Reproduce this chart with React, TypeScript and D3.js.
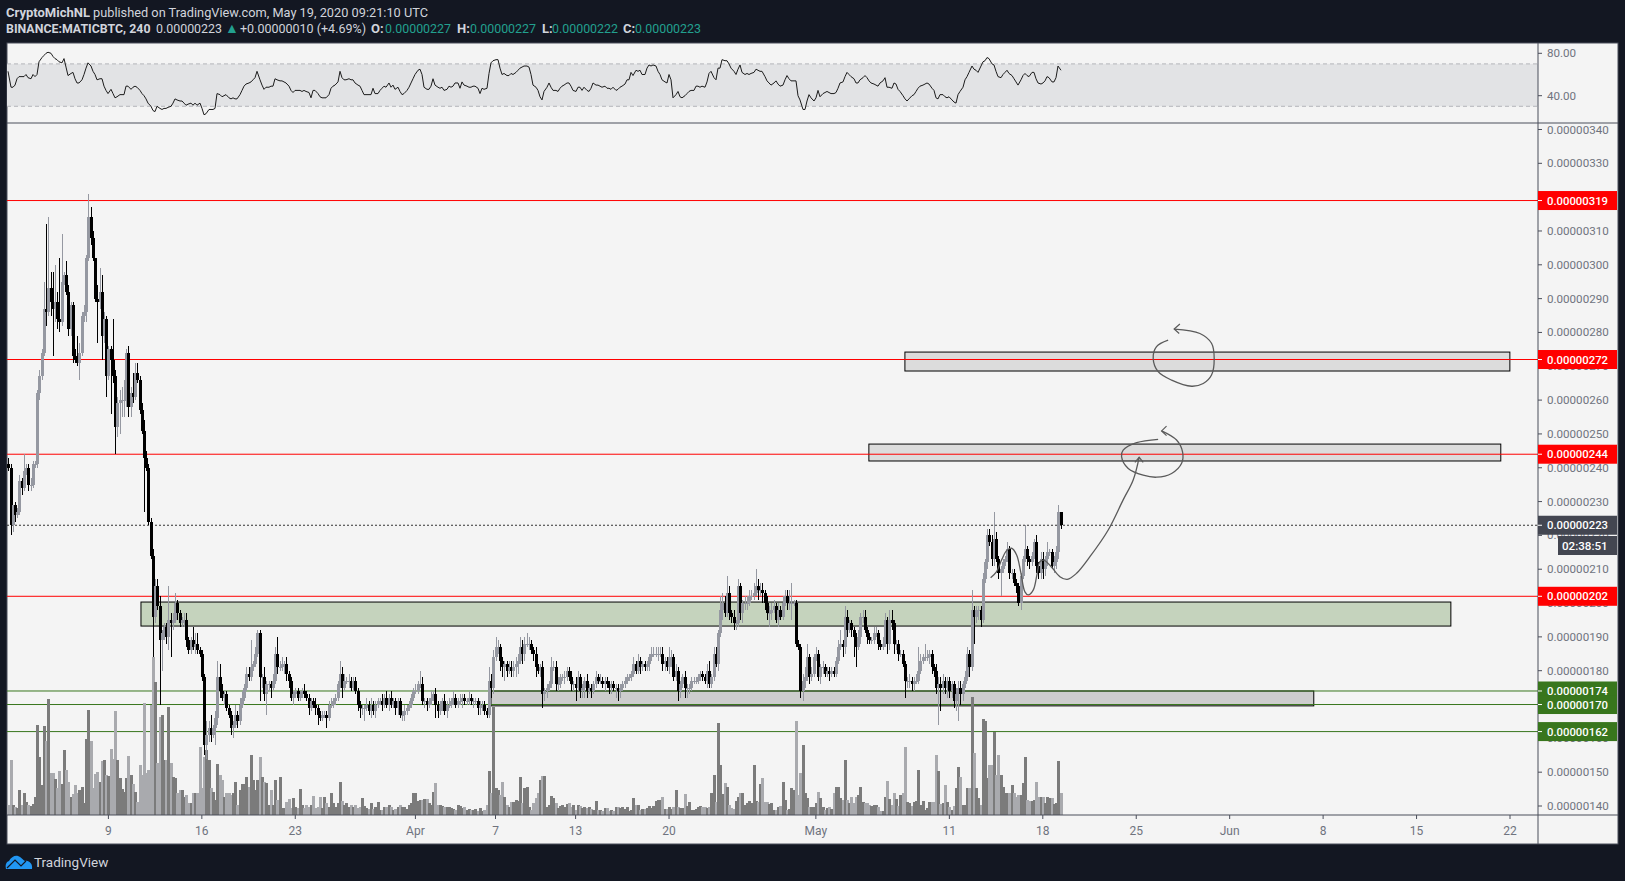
import React from "react";
import * as d3 from "d3";

// BINANCE:MATICBTC 4h candles, prices in satoshi (1e-8 BTC)
const firstOpen = 241;
const firstCandle = Date.UTC(2020, 2, 1, 12);
const candleMs = 4 * 3600 * 1000;

const closes = [
  240,223,229,226,227,236,234,239,240,235, 235,241,241,262,267,274,287,286,293,289,
  287,289,284,283,295,297,292,281,288,273, 272,271,274,285,286,302,314,308,302,290,
  289,292,279,284,267,275,272,267,252,259, 260,260,260,274,258,262,261,268,266,257,
  251,243,240,224,214,196,205,199,189,191, 193,190,195,194,195,200,197,194,195,195,
  189,186,189,187,188,186,185,178,158,161, 163,161,163,166,178,174,172,173,169,167,
  163,164,167,165,170,172,175,179,178,181, 182,185,191,178,178,173,176,176,175,177,
  185,181,181,182,182,179,177,172,173,174, 172,173,174,173,172,169,171,170,169,167,
  166,167,167,166,170,170,171,172,176,179, 175,177,177,177,175,177,174,170,169,169,
  169,170,168,170,168,170,171,171,170,172, 170,172,170,171,169,171,167,167,168,169,
  170,172,174,174,176,176,171,171,170,171, 172,173,170,168,170,171,168,170,170,171,
  172,170,171,171,172,171,171,172,171,171, 171,169,170,170,168,167,177,175,184,187,
  187,183,181,182,180,181,180,181,182,183, 187,185,188,188,188,186,185,181,180,181,
  173,174,175,176,181,181,176,176,178,178, 178,180,178,176,176,175,178,174,175,177,
  174,175,174,176,178,177,177,176,177,176, 175,176,175,175,174,175,176,177,178,178,
  179,182,180,183,181,182,181,182,184,185, 185,185,185,185,182,183,181,184,184,178,
  180,174,176,178,175,175,175,177,177,177, 178,179,178,177,180,176,178,185,182,191,
  198,200,197,203,197,196,194,194,205,197, 200,200,200,202,202,203,205,204,204,203,
  200,197,197,198,199,195,198,196,200,202, 200,200,200,200,188,187,174,177,178,184,
  178,179,184,185,178,181,181,179,180,179, 180,179,183,187,188,187,196,192,194,192,
  190,187,190,196,196,192,190,189,189,191, 191,188,187,188,195,188,195,194,188,188,
  185,185,182,177,177,177,176,177,177,180, 183,184,184,184,185,181,180,175,176,175,
  177,175,177,174,176,171,173,175,173,176, 178,185,181,198,196,198,198,195,207,212,
  220,218,213,219,213,209,210,212,213,216, 209,209,206,205,200,208,213,216,213,212,
  214,218,211,209,213,210,213,215,215,211, 212,215,227,223,
];

const upperWicks = [
  2,1,0,1,1,2,1,5,1,1, 2,1,1,1,2,1,8,25,21,5, 9,11,3,18,14,1,4,2,1,1, 2,7,3,1,2,1,7,3,2,0,
  4,7,5,2,1,1,1,12,2,2, 3,4,6,1,2,2,6,3,3,1, 2,3,2,1,1,2,2,2,3,1, 1,1,10,2,2,3,1,1,1,2,
  2,1,1,4,3,3,1,1,1,4, 2,4,1,2,5,4,2,1,1,1, 1,1,3,1,2,2,1,2,2,8, 1,2,1,1,1,3,1,1,1,2,
  2,5,2,2,1,2,1,1,1,1, 1,1,1,2,1,1,1,1,2,1, 1,1,1,1,1,2,1,1,1,4, 2,2,1,2,1,1,1,1,1,1,
  1,2,1,2,1,1,1,1,2,1, 2,1,2,1,1,1,1,1,2,1, 1,1,1,2,1,4,2,1,1,1, 2,1,2,1,1,1,2,1,2,1,
  2,1,1,2,1,1,1,2,1,1, 1,1,1,1,1,1,4,2,2,3, 2,1,1,1,1,2,2,2,2,2, 3,2,2,3,2,1,1,2,1,1,
  2,1,1,1,3,2,2,2,1,1, 2,1,1,2,1,2,2,1,1,1, 2,1,1,1,2,1,2,1,1,1, 1,1,1,1,1,1,1,1,1,1,
  1,2,1,2,1,1,1,1,1,2, 2,2,2,2,2,1,1,3,2,1, 2,1,1,1,2,1,1,1,1,1, 1,1,1,1,2,3,1,2,2,1,
  4,3,2,5,2,1,2,1,2,1, 1,2,2,2,2,3,5,2,2,2, 1,2,2,2,2,1,2,1,2,2, 2,4,6,1,1,1,1,2,3,4,
  1,2,1,2,1,1,2,1,1,1, 1,1,1,2,4,1,3,2,1,1, 1,1,2,1,2,2,1,1,1,2, 2,1,1,2,2,1,3,3,1,1,
  1,1,1,1,1,2,1,1,2,7, 2,1,4,2,1,1,1,2,2,2, 2,1,1,1,1,1,2,2,2,1, 2,2,1,6,1,1,1,1,2,1,
  2,2,2,8,2,1,1,1,1,2, 1,1,1,1,1,1,1,7,1,1, 1,1,2,1,2,2,1,3,1,1, 2,2,2,0,
];

const lowerWicks = [
  1,3,2,2,1,1,2,1,1,2, 2,1,1,1,2,1,1,4,1,4, 14,4,3,3,1,1,1,2,2,2, 1,1,5,1,2,3,1,2,1,1,
  12,2,7,2,6,1,16,2,8,3, 9,5,5,2,3,3,2,1,1,1, 1,16,1,1,1,12,2,1,19,9, 2,2,4,10,2,1,2,1,1,2,
  2,1,1,1,2,1,1,1,3,4, 2,2,1,5,2,2,1,2,1,1, 2,3,1,2,1,1,1,1,1,1, 1,1,1,7,3,2,6,2,3,1,
  1,2,1,1,3,2,2,1,2,1, 1,1,1,1,1,2,1,1,2,3, 1,1,1,3,1,1,1,1,1,1, 3,1,1,2,1,1,1,2,3,2,
  4,1,1,2,1,2,1,1,2,1, 1,2,1,1,2,2,1,2,2,1, 1,1,1,1,1,1,1,2,2,1, 1,1,4,2,1,2,1,2,1,1,
  1,1,1,1,2,1,1,1,1,2, 1,2,2,2,1,1,1,3,2,1, 2,3,3,4,2,1,2,2,3,3, 1,3,2,1,2,1,2,3,1,2,
  4,2,2,1,1,1,2,2,1,1, 2,1,1,2,2,4,1,2,2,3, 2,1,2,1,1,1,1,1,2,1, 2,2,1,3,3,2,1,1,1,1,
  1,1,1,1,2,1,1,1,2,1, 1,1,2,1,2,2,1,2,3,1, 1,3,2,1,3,3,2,1,1,1, 1,1,1,1,2,1,1,1,1,2,
  1,3,1,1,2,2,2,2,1,2, 3,2,2,1,1,1,1,3,2,3, 2,2,4,2,1,1,2,1,1,1, 2,2,5,1,1,1,2,3,2,1,
  2,1,1,1,1,2,2,1,1,2, 1,1,1,1,1,3,2,2,1,2, 6,6,1,2,2,1,2,1,1,1, 1,2,1,1,1,3,2,2,3,2,
  2,1,1,5,2,2,2,2,1,1, 1,1,1,1,2,2,2,2,11,7, 2,2,3,2,2,2,3,8,3,2, 1,1,3,1,8,2,3,2,1,1,
  2,1,2,2,1,2,7,1,1,1, 2,2,1,2,1,2,1,1,2,2, 1,1,2,2,2,3,2,2,1,1, 2,2,2,1,
];

const volumes = [
  10,55,10,8,7,25,10,22,13,10, 9,11,18,90,58,30,89,74,116,42, 42,36,27,44,31,65,45,33,18,21,
  30,22,25,28,12,76,105,74,27,41, 43,33,54,55,40,39,66,56,104,55, 37,26,23,37,59,40,31,23,13,50,
  40,112,42,45,110,158,133,52,98,100, 55,55,108,52,38,37,22,25,25,18, 20,12,12,22,22,22,68,27,58,65,
  55,27,23,15,51,40,35,18,22,22, 20,22,33,10,25,31,31,38,28,60, 35,25,35,58,38,33,32,10,25,10,
  35,15,38,7,7,13,16,7,17,8, 7,26,10,7,10,8,10,19,7,8, 18,7,18,12,8,22,12,8,12,33,
  14,10,12,8,10,8,10,7,8,17, 9,7,6,12,6,8,13,5,5,8, 8,10,8,5,6,8,10,8,8,6,
  10,12,22,22,14,15,15,16,16,12, 10,23,32,10,10,9,8,8,8,7, 6,5,10,9,7,8,5,6,5,5,
  6,4,7,4,5,10,44,22,108,27, 25,20,33,18,10,8,13,13,15,14, 38,12,27,28,8,5,12,17,22,35,
  39,39,8,10,19,17,12,7,9,10, 8,11,12,8,10,5,10,9,7,8, 7,8,6,5,14,5,5,4,7,7,
  4,5,4,8,8,7,8,6,8,4, 5,17,10,10,5,6,6,7,9,7, 9,14,15,15,18,6,6,8,6,8,
  25,8,7,7,21,9,13,5,5,6, 8,9,8,8,7,8,22,40,13,92, 50,21,32,28,10,7,6,14,18,22,
  22,10,12,14,12,50,14,13,31,37, 13,13,11,12,5,5,8,9,33,15, 5,6,27,25,94,20,42,70,22,17,
  8,8,8,12,23,17,8,5,7,8, 6,22,28,28,17,15,55,15,12,18, 12,18,20,28,13,12,12,10,9,10,
  10,8,4,4,18,34,16,10,22,16, 9,20,22,68,13,12,9,13,14,45, 10,14,5,7,13,13,13,60,44,11,
  12,30,13,8,5,9,27,48,38,10, 10,27,27,118,62,27,17,10,96,94, 37,50,50,83,40,60,40,28,22,22,
  22,30,22,18,20,20,32,58,15,14, 14,15,33,18,18,18,12,18,17,17, 11,12,54,22,
];

const rsiValues = [
  63,48,48,50,56,58,58,58,60,57, 56,60,58,60,72,76,78,80,81,80, 77,75,74,72,71,75,67,59,61,62,
  56,52,52,55,60,66,71,68,63,60, 55,56,56,49,45,42,46,42,38,39, 41,41,41,49,49,46,48,49,48,45,
  42,40,37,33,30,26,25,30,28,27, 28,28,29,30,33,37,36,35,35,33, 31,32,33,31,33,31,33,28,22,23,
  27,27,27,28,42,41,39,40,41,38, 37,38,37,37,41,45,49,51,52,53, 55,57,63,55,50,46,48,48,49,49,
  56,55,54,54,53,52,49,45,43,45, 45,45,44,45,44,43,38,45,45,42, 39,38,38,38,41,47,49,50,53,63,
  57,55,55,56,55,55,52,50,49,45, 41,41,41,41,47,42,42,45,47,49, 48,52,48,50,46,48,44,41,42,45,
  48,52,56,60,64,65,60,48,46,46, 49,56,50,48,47,48,45,46,49,48, 49,52,52,47,53,50,49,48,48,49,
  49,47,42,47,46,47,61,71,73,74, 74,66,60,61,59,59,61,60,62,64, 66,67,68,68,67,60,50,48,45,39,
  36,44,48,52,48,45,45,44,47,49, 50,52,52,49,45,44,48,48,45,48, 45,44,47,52,50,50,49,48,49,47,
  47,46,48,45,46,48,49,51,55,55, 62,59,64,63,64,60,60,66,69,68, 69,68,63,60,55,53,52,60,55,38,
  41,44,39,38,40,42,44,45,45,49, 49,48,49,48,53,61,63,57,55,66, 66,74,73,73,70,66,63,60,65,69,
  62,60,61,60,61,62,65,64,63,63, 58,54,52,50,52,54,51,49,50,55, 59,56,54,54,54,40,36,27,27,35,
  41,38,35,38,45,39,42,43,44,43, 42,42,43,47,52,53,58,62,60,58, 56,52,52,55,57,59,57,54,52,51,
  50,49,52,54,57,48,48,47,52,51, 46,44,40,37,35,37,40,41,44,47, 49,50,51,52,51,47,45,38,37,41,
  41,39,38,39,36,34,33,41,44,48, 55,58,62,68,65,64,62,68,72,73, 76,75,70,69,63,58,57,60,62,64,
  61,59,56,53,50,55,59,61,59,58, 62,62,56,52,51,52,54,58,57,53, 53,57,68,64,
];

// 320 and 170 sit completely behind the price tags
const priceTicks = d3.range(140, 341, 10).filter((v) => v !== 320 && v !== 170);
const rsiTicks = [80, 40];
const rsiBand = [70, 30];

const timeTicks: [Date, string][] = [
  [new Date(Date.UTC(2020, 2, 9)), "9"],
  [new Date(Date.UTC(2020, 2, 16)), "16"],
  [new Date(Date.UTC(2020, 2, 23)), "23"],
  [new Date(Date.UTC(2020, 3, 1)), "Apr"],
  [new Date(Date.UTC(2020, 3, 7)), "7"],
  [new Date(Date.UTC(2020, 3, 13)), "13"],
  [new Date(Date.UTC(2020, 3, 20)), "20"],
  [new Date(Date.UTC(2020, 4, 1)), "May"],
  [new Date(Date.UTC(2020, 4, 11)), "11"],
  [new Date(Date.UTC(2020, 4, 18)), "18"],
  [new Date(Date.UTC(2020, 4, 25)), "25"],
  [new Date(Date.UTC(2020, 5, 1)), "Jun"],
  [new Date(Date.UTC(2020, 5, 8)), "8"],
  [new Date(Date.UTC(2020, 5, 15)), "15"],
  [new Date(Date.UTC(2020, 5, 22)), "22"],
];

const resistanceLevels = [319, 272, 244, 202];
const supportLevels = [174, 170, 162];
const lastPrice = 223;

// zones: [day from, day to, price low, price high, fill] with days counted from Mar 9
const zones: [number, number, number, number, string][] = [
  [59.67, 104.99, 268.6, 274.2, "#dcdcdc"],
  [56.97, 104.31, 242, 247, "#dcdcdc"],
  [2.44, 100.57, 193.2, 200.3, "#c5d3bd"],
  [28.66, 90.3, 169.6, 174, "#cdcdcd"],
];

// hand drawn arrows, [day from Mar 9, price]
const sketches: [number, number][][] = [
  [[79.39,277.7],[78.52,275.8],[78.27,272.3],[78.64,268.4],[79.65,265.9],[81.15,264.1],[82.02,264.9],[82.64,267.4],[82.84,272.3],[82.64,276.8],[81.77,279.7],[79.84,281]],
  [[78.64,248.4],[77.03,247.4],[76.02,245.2],[75.9,243.3],[76.4,239.8],[77.52,237.8],[78.52,237.2],[79.65,238.3],[80.4,241.3],[80.47,244.7],[80.02,248.2],[78.9,250.9]],
  [[66.09,207.5],[66.54,209.3],[66.91,212.7],[67.29,215.5],[67.66,216.2],[68.04,214.2],[68.34,209.3],[68.66,203.3],[68.91,202.4],[69.28,203.8],[69.58,208.8],[69.78,212.2],[70.08,212.7],[70.66,210.6],[71.28,207.8],[71.83,207],[72.53,208.8],[73.53,213.7],[74.9,221.6],[76.02,230.5],[76.77,236.4],[77.22,243.1]],
];
const arrowHeads: [number, number][][] = [
  [[80.27,282.5],[79.84,281],[80.22,279.7]],
  [[79.27,252.3],[78.9,250.9],[79.27,249.5]],
  [[76.9,241.6],[77.22,243.1],[77.52,241.6]],
];

const W = 1625;
const H = 881;
const left = 7;
const right = 1618;
const top = 43;
const bottom = 844;
const axisX = 1538;
const paneY = 123;
const timeY = 815;

const bg = "#131722";
const panel = "#f4f4f4";
const frame = "#4a4e5a";
const upBody = "#9598a1";
const downBody = "#000000";
const upVol = "#7b7b7b";
const downVol = "#a9aaae";
const red = "#ff0000";
const green = "#38761d";
const teal = "#22a08f";
const headText = "#d1d4dc";
const tickText = "#6f737e";

const font = "Roboto, 'Open Sans', sans-serif";

const x = d3.scaleUtc().domain([new Date(Date.UTC(2020, 2, 9)), new Date(Date.UTC(2020, 5, 22))]).range([108.4, 1510]);
const y = d3.scaleLinear().domain([140, 340]).range([806, 129.5]);
const yVol = d3.scaleLinear().domain([0, 160]).range([timeY, timeY - 160]);
const yRsi = d3.scaleLinear().domain([80, 40]).range([53.3, 95.7]);

const dayX = (d: number) => x(new Date(Date.UTC(2020, 2, 9) + d * 864e5));
const priceLabel = (v: number) => (v * 1e-8).toFixed(8);

const candles = closes.map((close, i) => {
  const open = i === 0 ? firstOpen : closes[i - 1];
  return {
    open,
    close,
    high: Math.max(open, close) + upperWicks[i],
    low: Math.min(open, close) - lowerWicks[i],
    volume: volumes[i],
    rsi: rsiValues[i],
    cx: Math.round(x(new Date(firstCandle + i * candleMs))),
  };
});

const sketchLine = d3
  .line<[number, number]>()
  .x((d) => dayX(d[0]))
  .y((d) => y(d[1]))
  .curve(d3.curveCatmullRom.alpha(0.5));

const arrowLine = d3
  .line<[number, number]>()
  .x((d) => dayX(d[0]))
  .y((d) => y(d[1]));

const rsiLine = d3
  .line<(typeof candles)[number]>()
  .x((d) => d.cx)
  .y((d) => yRsi(d.rsi));

function PriceTag({ value, fill }: { value: number; fill: string }) {
  return (
    <g>
      <rect x={axisX} y={y(value) - 9.5} width={right - 1 - axisX} height={19} fill={fill} />
      <line x1={axisX} x2={axisX + 4} y1={y(value)} y2={y(value)} stroke="#fff" />
      <text x={1547} y={y(value) + 4} fontSize={11.6} fontWeight={500} fill="#fff" textLength={61} lengthAdjust="spacingAndGlyphs">
        {priceLabel(value)}
      </text>
    </g>
  );
}

export default function App() {
  return (
    <svg
      width={W}
      height={H}
      style={{ position: "absolute", left: 0, top: 0, display: "block" }}
      fontFamily={font}
    >
      <defs>
        <clipPath id="plot">
          <rect x={left} y={top} width={axisX - left} height={timeY - top} />
        </clipPath>
      </defs>
      <rect width={W} height={H} fill={bg} />
      <rect x={left} y={top} width={right - left} height={bottom - top} fill={panel} stroke={frame} />

      {/* header */}
      <g fontSize={13} fill={headText} lengthAdjust="spacingAndGlyphs">
        <text x={6} y={17} fontWeight={700} textLength={84} lengthAdjust="spacingAndGlyphs">CryptoMichNL</text>
        <text x={93} y={17} textLength={335} lengthAdjust="spacingAndGlyphs">published on TradingView.com, May 19, 2020 09:21:10 UTC</text>
        <text x={6} y={33} fontWeight={700} textLength={144.5} lengthAdjust="spacingAndGlyphs">BINANCE:MATICBTC, 240</text>
        <text x={156} y={33} textLength={66} lengthAdjust="spacingAndGlyphs">0.00000223</text>
        <text x={225} y={33} fill={teal} fontSize={14}>▲</text>
        <text x={240} y={33} textLength={126} lengthAdjust="spacingAndGlyphs">+0.00000010 (+4.69%)</text>
        <text x={371} y={33} fontWeight={700}>O:</text>
        <text x={385} y={33} fill={teal} textLength={66} lengthAdjust="spacingAndGlyphs">0.00000227</text>
        <text x={457} y={33} fontWeight={700}>H:</text>
        <text x={470} y={33} fill={teal} textLength={66} lengthAdjust="spacingAndGlyphs">0.00000227</text>
        <text x={542} y={33} fontWeight={700}>L:</text>
        <text x={552} y={33} fill={teal} textLength={66} lengthAdjust="spacingAndGlyphs">0.00000222</text>
        <text x={623} y={33} fontWeight={700}>C:</text>
        <text x={635} y={33} fill={teal} textLength={66} lengthAdjust="spacingAndGlyphs">0.00000223</text>
      </g>

      {/* RSI pane */}
      <rect x={left} y={yRsi(rsiBand[0])} width={axisX - left} height={yRsi(rsiBand[1]) - yRsi(rsiBand[0])} fill="#e2e3e5" />
      {rsiBand.map((v) => (
        <line key={v} x1={left} x2={axisX} y1={yRsi(v)} y2={yRsi(v)} stroke="#b4b6bb" strokeDasharray="4 3" />
      ))}
      <path d={rsiLine(candles) ?? ""} fill="none" stroke="#1c1c1c" strokeWidth={1} />

      {/* zones and levels */}
      <g clipPath="url(#plot)">
        {zones.map(([d0, d1, lo, hi, fill]) => (
          <rect
            key={d0}
            x={dayX(d0)}
            y={y(hi)}
            width={dayX(d1) - dayX(d0)}
            height={y(lo) - y(hi)}
            fill={fill}
            stroke="#000"
            strokeWidth={1}
          />
        ))}
        {resistanceLevels.map((v) => (
          <line key={v} x1={left} x2={axisX} y1={y(v)} y2={y(v)} stroke={red} strokeWidth={1} />
        ))}
        {supportLevels.map((v) => (
          <line key={v} x1={left} x2={axisX} y1={y(v)} y2={y(v)} stroke={green} strokeWidth={1} />
        ))}
        <line x1={left} x2={axisX} y1={y(lastPrice)} y2={y(lastPrice)} stroke="#333" strokeDasharray="2 2" />

        {/* volume */}
        <g shapeRendering="crispEdges">
          {candles.map((c, i) => (
            <rect
              key={i}
              x={c.cx - 1}
              y={yVol(c.volume)}
              width={3}
              height={timeY - yVol(c.volume)}
              fill={c.close >= c.open ? upVol : downVol}
            />
          ))}
        </g>

        {/* candles */}
        <g shapeRendering="crispEdges">
          {candles.map((c, i) => {
            const fill = c.close >= c.open ? upBody : downBody;
            const yTop = y(Math.max(c.open, c.close));
            const yBot = y(Math.min(c.open, c.close));
            return (
              <g key={i} fill={fill}>
                <rect x={c.cx} y={y(c.high)} width={1} height={y(c.low) - y(c.high)} />
                <rect x={c.cx - 1} y={yTop} width={3} height={Math.max(1, yBot - yTop)} />
              </g>
            );
          })}
        </g>

        {/* sketches */}
        {sketches.map((s, i) => (
          <path key={i} d={sketchLine(s) ?? ""} fill="none" stroke="#5a5a5a" strokeWidth={1.3} />
        ))}
        {arrowHeads.map((s, i) => (
          <path key={i} d={arrowLine(s) ?? ""} fill="none" stroke="#5a5a5a" strokeWidth={1.2} />
        ))}
      </g>

      {/* frame lines */}
      <line x1={left} x2={right} y1={paneY} y2={paneY} stroke={frame} />
      <line x1={left} x2={right} y1={timeY} y2={timeY} stroke={frame} />
      <line x1={axisX} x2={axisX} y1={top} y2={bottom} stroke={frame} />

      {/* time axis */}
      {timeTicks.map(([d, label]) => (
        <g key={label}>
          <line x1={x(d)} x2={x(d)} y1={timeY} y2={timeY + 4} stroke={frame} />
          <text x={x(d)} y={835} textAnchor="middle" fontSize={12} fill={tickText}>
            {label}
          </text>
        </g>
      ))}

      {/* price axis */}
      {priceTicks.map((v) => (
        <g key={v}>
          <line x1={axisX} x2={axisX + 4} y1={y(v)} y2={y(v)} stroke={frame} />
          <text x={1547} y={y(v) + 4} fontSize={11.6} fill={tickText}>
            {priceLabel(v)}
          </text>
        </g>
      ))}
      {rsiTicks.map((v) => (
        <g key={v}>
          <line x1={axisX} x2={axisX + 4} y1={yRsi(v)} y2={yRsi(v)} stroke={frame} />
          <text x={1547} y={yRsi(v) + 4} fontSize={11.6} fill={tickText}>
            {v.toFixed(2)}
          </text>
        </g>
      ))}
      {resistanceLevels.map((v) => (
        <PriceTag key={v} value={v} fill={red} />
      ))}
      {supportLevels.map((v) => (
        <PriceTag key={v} value={v} fill={green} />
      ))}
      <PriceTag value={lastPrice} fill="#434651" />
      <rect x={1558} y={536} width={59} height={19} fill="#434651" />
      <text x={1562} y={550} fontSize={11.6} fontWeight={500} fill="#fff">
        02:38:51
      </text>

      {/* footer logo */}
      <path
        d="M6 869 C5 865 6 862 9 861 C11 857 15 855 18 856 C21 857 23 860 25 861 C29 860 33 864 32 869 Z"
        fill="#2196f3"
      />
      <path d="M7 868 L15 860 L21 866 L26 861" fill="none" stroke={bg} strokeWidth={1.2} />
      <text x={34} y={867} fontSize={13.5} fill={headText}>
        TradingView
      </text>
    </svg>
  );
}
